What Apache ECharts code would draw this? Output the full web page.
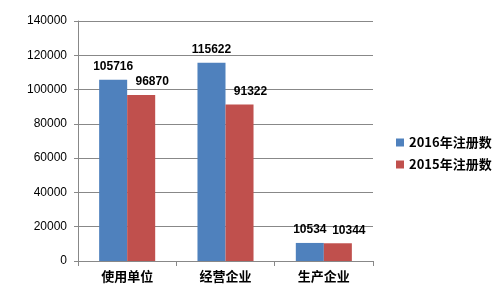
<!DOCTYPE html>
<html><head><meta charset="utf-8">
<script src="https://cdn.jsdelivr.net/npm/echarts@6/dist/echarts.min.js"></script>
<style>html,body{margin:0;padding:0;background:#fff}#c{width:499px;height:299px}</style>
</head><body><div id="c"></div>
<script>
const categories = ['使用单位', '经营企业', '生产企业'];
const series2016 = [105716, 115622, 10534];
const series2015 = [96870, 91322, 10344];
const seriesNames = ['2016年注册数', '2015年注册数'];
const yTicks = { min: 0, max: 140000, interval: 20000 };

const chart = echarts.init(document.getElementById('c'), null, { renderer: 'canvas' });
const labelStyle = { show: true, position: 'top', distance: 7, color: '#000', fontWeight: 'bold', fontSize: 12, fontFamily: 'Liberation Sans' };
chart.setOption({
  animation: false,
  backgroundColor: '#fff',
  grid: { left: 78, right: 126, top: 21, bottom: 38 },
  legend: {
    orient: 'vertical', left: 391, top: 131, itemWidth: 8, itemHeight: 8, itemGap: 9,
    icon: 'rect',
    textStyle: { color: '#000', fontWeight: 'bold', fontSize: 13, fontFamily: 'Noto Sans CJK SC' },
    data: seriesNames
  },
  xAxis: {
    type: 'category', data: categories,
    axisLine: { lineStyle: { color: '#888' } },
    axisTick: { show: true, length: 5, lineStyle: { color: '#888' } },
    axisLabel: { color: '#000', fontWeight: 'bold', fontSize: 13, margin: 9, fontFamily: 'Noto Sans CJK SC' }
  },
  yAxis: {
    type: 'value', min: yTicks.min, max: yTicks.max, interval: yTicks.interval,
    axisLine: { show: true, lineStyle: { color: '#888' } },
    axisTick: { show: true, length: 4, lineStyle: { color: '#888' } },
    splitLine: { lineStyle: { color: '#888' } },
    axisLabel: { color: '#000', fontSize: 12, margin: 11, fontFamily: 'Liberation Sans', formatter: v => String(v) }
  },
  series: [
    { name: seriesNames[0], type: 'bar', data: series2016, barGap: '0%', barCategoryGap: '43%',
      itemStyle: { color: '#4F81BD' }, label: labelStyle },
    { name: seriesNames[1], type: 'bar', data: series2015,
      itemStyle: { color: '#C0504D' }, label: Object.assign({}, labelStyle, { offset: [11, 0] }) }
  ]
});
</script></body></html>
